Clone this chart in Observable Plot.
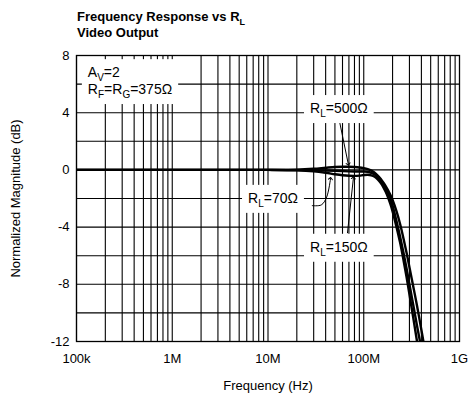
<!DOCTYPE html>
<html><head><meta charset="utf-8">
<script src="https://cdn.jsdelivr.net/npm/d3@7"></script>
<script src="https://cdn.jsdelivr.net/npm/@observablehq/plot@0.6"></script>
<style>
html,body{margin:0;padding:0;background:#fff;}
#chart{width:469px;height:401px;}
</style></head><body><div id="chart"></div>
<script>
// ---- data ----
const freq500 = [1e5,1e6,1e7,2e7,3e7,4e7,5e7,6e7,7e7,8e7,9e7,1e8,1.1e8,1.2e8,1.3e8,1.4e8,1.5e8,1.6e8,1.7e8,1.8e8,1.9e8,2e8,2.2e8,2.4e8,2.6e8,2.8e8,3e8,3.3e8,3.6e8,4e8,4.3e8];
const db500   = [0,0,0,0.02,0.08,0.15,0.2,0.22,0.22,0.2,0.17,0.12,0.05,-0.05,-0.2,-0.4,-0.62,-0.88,-1.15,-1.45,-1.75,-2.1,-2.9,-3.8,-4.8,-5.8,-6.8,-8.2,-9.5,-11.2,-12.4];
const freq150 = [1e5,1e6,1e7,2e7,3e7,4e7,5e7,6e7,7e7,8e7,9e7,1e8,1.1e8,1.2e8,1.3e8,1.4e8,1.5e8,1.6e8,1.7e8,1.8e8,1.9e8,2e8,2.2e8,2.4e8,2.6e8,2.8e8,3e8,3.3e8,3.6e8,4e8];
const db150   = [0,0,0,-0.01,-0.02,-0.04,-0.06,-0.08,-0.1,-0.11,-0.11,-0.11,-0.13,-0.2,-0.32,-0.5,-0.72,-1.0,-1.3,-1.65,-2.05,-2.5,-3.6,-4.7,-5.8,-6.9,-8.0,-9.5,-10.9,-12.5];
const freq70  = [1e5,1e6,1e7,2e7,3e7,4e7,5e7,6e7,7e7,8e7,9e7,1e8,1.1e8,1.2e8,1.3e8,1.4e8,1.5e8,1.6e8,1.7e8,1.8e8,1.9e8,2e8,2.2e8,2.4e8,2.6e8,2.8e8,3e8,3.3e8,3.7e8];
const db70    = [0,0,0,-0.03,-0.1,-0.2,-0.3,-0.37,-0.41,-0.42,-0.4,-0.36,-0.34,-0.38,-0.48,-0.66,-0.9,-1.2,-1.55,-1.95,-2.4,-2.9,-4.0,-5.1,-6.3,-7.5,-8.7,-10.4,-12.5];

const xTickValues = [1e5,1e6,1e7,1e8,1e9];
const xTickLabels = ["100k","1M","10M","100M","1G"];
const yTickValues = [-12,-8,-4,0,4,8];
const yGridValues = [-10,-8,-6,-4,-2,0,2,4,6];
const xLabel = "Frequency (Hz)";
const yLabel = "Normalized Magnitude (dB)";

// annotation anchors (data coordinates)
const leader500Freq = [5.6e7, 6.9e7];     const leader500Db = [3.35, 0.4];
const leader70Freq  = [2.9e7, 3.6e7, 4.1e7, 4.5e7]; const leader70Db = [-2.5, -2.45, -1.9, -0.6];
const leader150Freq = [6.76e7, 7.8e7];    const leader150Db = [-4.4, -0.55];

// box: index of the white box each label belongs to
const labels = [
  {f: 1.33e5, db: 6.45, box: 0, parts: [["A"],["V",1],["=2"]]},
  {f: 1.33e5, db: 5.27, box: 0, parts: [["R"],["F",1],["=R"],["G",1],["=375Ω"]]},
  {f: 2.78e7, db: 3.94, box: 1, parts: [["R"],["L",1],["=500Ω"]]},
  {f: 6.26e6, db: -2.34, box: 2, parts: [["R"],["L",1],["=70Ω"]]},
  {f: 2.78e7, db: -5.76, box: 3, parts: [["R"],["L",1],["=150Ω"]]}
];

// ---- build tables ----
const curves = [
  ...freq500.map((f,i)=>({f, db: db500[i], s: "500"})),
  ...freq150.map((f,i)=>({f, db: db150[i], s: "150"})),
  ...freq70.map((f,i)=>({f, db: db70[i], s: "70"}))
];
const toPts = (F,D) => F.map((f,i)=>({f, db: D[i]}));
const gridX = [];
for (let d = 1e5; d < 1e9; d *= 10) for (let k = 1; k < 10; k++) gridX.push(d*k);

const FONT = "'Liberation Sans', Arial, Helvetica, sans-serif";

const plot = Plot.plot({
  width: 469, height: 401,
  marginLeft: 76, marginRight: 10, marginTop: 55, marginBottom: 60,
  style: {fontFamily: FONT, fontSize: "13px", color: "black", background: "white"},
  x: {type: "log", domain: [1e5, 1e9]},
  y: {domain: [-12, 8]},
  marks: [
    Plot.ruleX(gridX, {stroke: "black", strokeWidth: 1.1}),
    Plot.ruleY(yGridValues, {stroke: "black", strokeWidth: 1.1}),
    Plot.frame({stroke: "black", strokeWidth: 1.3}),
    Plot.axisX({ticks: xTickValues, tickFormat: (d) => xTickLabels[xTickValues.indexOf(d)], tickSize: 0, tickPadding: 12, label: null, fontSize: 13}),
    Plot.axisY({ticks: yTickValues, tickFormat: (d) => `${d}`, tickSize: 0, tickPadding: 7, label: null, fontSize: 13}),
    Plot.text([xLabel], {frameAnchor: "bottom", dy: 48, text: d => d, fontSize: 13}),
    Plot.text([yLabel], {frameAnchor: "left", dx: -61, rotate: -90, textAnchor: "middle", text: d => d, fontSize: 13}),
    Plot.line(curves, {x: "f", y: "db", z: "s", stroke: "black", strokeWidth: 2.4, curve: "catmull-rom", clip: true}),
    Plot.line(toPts(leader500Freq, leader500Db), {x: "f", y: "db", stroke: "black", strokeWidth: 1, markerEnd: "arrow"}),
    Plot.line(toPts(leader70Freq, leader70Db), {x: "f", y: "db", stroke: "black", strokeWidth: 1, curve: "catmull-rom", markerEnd: "arrow"}),
    Plot.line(toPts(leader150Freq, leader150Db), {x: "f", y: "db", stroke: "black", strokeWidth: 1, markerEnd: "arrow"})
  ]
});
document.getElementById("chart").appendChild(plot);

const svg = d3.select(plot);
const xs = plot.scale("x"), ys = plot.scale("y");

function richText(g, x, y, parts, size, subSize, weight) {
  const t = g.append("text").attr("x", x).attr("y", y).attr("text-anchor", "start")
    .attr("font-family", FONT).attr("font-size", size).attr("font-weight", weight || "normal").attr("fill", "black");
  let shifted = false;
  for (const [str, sub] of parts) {
    const ts = t.append("tspan").text(str);
    if (sub && !shifted) { ts.attr("dy", 4).attr("font-size", subSize); shifted = true; }
    else if (!sub && shifted) { ts.attr("dy", -4); shifted = false; }
  }
  return t;
}

// annotation labels with white boxes beneath them
const boxLayer = svg.append("g");
const textLayer = svg.append("g");
const extents = {};
for (const L of labels) {
  const t = richText(textLayer, xs.apply(L.f), ys.apply(L.db), L.parts, 14, 10);
  const b = t.node().getBBox();
  const e = extents[L.box] || (extents[L.box] = {x0: Infinity, y0: Infinity, x1: -Infinity, y1: -Infinity});
  e.x0 = Math.min(e.x0, b.x); e.y0 = Math.min(e.y0, b.y);
  e.x1 = Math.max(e.x1, b.x + b.width); e.y1 = Math.max(e.y1, b.y + b.height);
}
for (const k in extents) {
  const e = extents[k];
  boxLayer.append("rect").attr("x", e.x0 - 6).attr("y", e.y0 - 5)
    .attr("width", e.x1 - e.x0 + 12).attr("height", e.y1 - e.y0 + 9).attr("fill", "white");
}

// title above the frame
const tg = svg.append("g");
richText(tg, 77, 21, [["Frequency Response vs R"],["L",1]], 13, 9, "bold");
richText(tg, 77, 37, [["Video Output"]], 13, 9, "bold");
</script></body></html>
